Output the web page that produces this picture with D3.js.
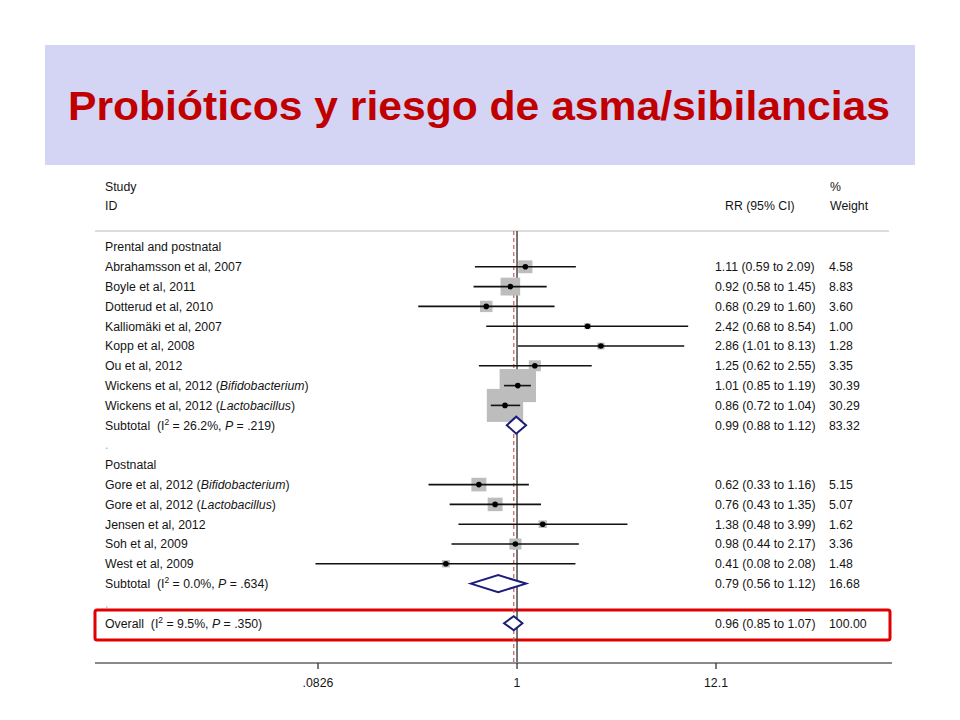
<!DOCTYPE html>
<html>
<head>
<meta charset="utf-8">
<script src="https://cdn.jsdelivr.net/npm/d3@7"></script>
<style>
  html, body { margin: 0; padding: 0; background: #fff; }
  svg { display: block; }
</style>
</head>
<body>
<svg id="chart" width="960" height="720"></svg>
<script>
// ---------------- DATA ----------------
const titleText = "Probióticos y riesgo de asma/sibilancias";

// Markup: _text_ = italic, ^2^ = superscript
const rowLabels = [
  "Prental and postnatal",
  "Abrahamsson et al, 2007",
  "Boyle et al, 2011",
  "Dotterud et al, 2010",
  "Kalliomäki et al, 2007",
  "Kopp et al, 2008",
  "Ou et al, 2012",
  "Wickens et al, 2012 (_Bifidobacterium_)",
  "Wickens et al, 2012 (_Lactobacillus_)",
  "Subtotal  (I^2^ = 26.2%, _P_ = .219)",
  ".",
  "Postnatal",
  "Gore et al, 2012 (_Bifidobacterium_)",
  "Gore et al, 2012 (_Lactobacillus_)",
  "Jensen et al, 2012",
  "Soh et al, 2009",
  "West et al, 2009",
  "Subtotal  (I^2^ = 0.0%, _P_ = .634)",
  ".",
  "Overall  (I^2^ = 9.5%, _P_ = .350)"
];
const rowTypes = [
  "group", "study", "study", "study", "study", "study", "study", "study", "study", "subtotal",
  "blank", "group", "study", "study", "study", "study", "study", "subtotal", "blank", "overall"
];
const rrValues = [null, 1.11, 0.92, 0.68, 2.42, 2.86, 1.25, 1.01, 0.86, 0.99,
                  null, null, 0.62, 0.76, 1.38, 0.98, 0.41, 0.79, null, 0.96];
const ciLower  = [null, 0.59, 0.58, 0.29, 0.68, 1.01, 0.62, 0.85, 0.72, 0.88,
                  null, null, 0.33, 0.43, 0.48, 0.44, 0.08, 0.56, null, 0.85];
const ciUpper  = [null, 2.09, 1.45, 1.60, 8.54, 8.13, 2.55, 1.19, 1.04, 1.12,
                  null, null, 1.16, 1.35, 3.99, 2.17, 2.08, 1.12, null, 1.07];
const weights  = [null, 4.58, 8.83, 3.60, 1.00, 1.28, 3.35, 30.39, 30.29, 83.32,
                  null, null, 5.15, 5.07, 1.62, 3.36, 1.48, 16.68, null, 100.00];
const overallRR = 0.96;
const tickValues = [0.0826, 1, 12.1];
const tickLabels = [".0826", "1", "12.1"];

// ---------------- LAYOUT ----------------
const svg = d3.select("#chart");
const font = "'Liberation Sans', Arial, sans-serif";
const textColor = "#141414";

// Title banner
svg.append("rect").attr("x", 45).attr("y", 45).attr("width", 870).attr("height", 120)
  .attr("fill", "#d4d4f4");
svg.append("text").attr("x", 68).attr("y", 120)
  .attr("font-family", font).attr("font-weight", "bold").attr("font-size", 41)
  .attr("fill", "#c00000")
  .attr("textLength", 822).attr("lengthAdjust", "spacingAndGlyphs")
  .text(titleText);

// Scales
const x = d3.scaleLog().domain([0.0826, 12.1]).range([318, 716]);
const y = d3.scaleLinear().domain([0, 19]).range([247, 623.2]);

const plotTop = 231, axisY = 663;
const colLabelX = 105, colRRX = 715, colWX = 829;
const fs = 12.3;

// Header texts
const hdr = svg.append("g").attr("font-family", font).attr("font-size", fs).attr("fill", textColor);
hdr.append("text").attr("x", colLabelX).attr("y", 187).attr("dy", "0.35em").text("Study");
hdr.append("text").attr("x", colLabelX).attr("y", 206).attr("dy", "0.35em").text("ID");
hdr.append("text").attr("x", colRRX + 10).attr("y", 206).attr("dy", "0.35em").text("RR (95% CI)");
hdr.append("text").attr("x", colWX + 1).attr("y", 187).attr("dy", "0.35em").text("%");
hdr.append("text").attr("x", colWX + 1).attr("y", 206).attr("dy", "0.35em").text("Weight");

// header separator
svg.append("line").attr("x1", 95).attr("x2", 889).attr("y1", plotTop).attr("y2", plotTop)
  .attr("stroke", "#d0d0d0").attr("stroke-width", 1.5);

// Red highlight box
svg.append("rect").attr("x", 95).attr("y", 610).attr("width", 795).attr("height", 30)
  .attr("rx", 2).attr("fill", "none").attr("stroke", "#e00000").attr("stroke-width", 3);

// Null line at 1
svg.append("line").attr("x1", x(1)).attr("x2", x(1)).attr("y1", plotTop).attr("y2", axisY)
  .attr("stroke", "#3a3a3a").attr("stroke-width", 1.4);
// Overall effect dashed line
svg.append("line").attr("x1", x(overallRR)).attr("x2", x(overallRR)).attr("y1", plotTop).attr("y2", axisY)
  .attr("stroke", "#c06060").attr("stroke-width", 1.2).attr("stroke-dasharray", "4,3");

const rows = rowLabels.map((label, i) => ({
  i, label, type: rowTypes[i], rr: rrValues[i], lo: ciLower[i], hi: ciUpper[i], w: weights[i]
}));
const studyRows = rows.filter(d => d.type === "study");
const poolRows = rows.filter(d => d.type === "subtotal" || d.type === "overall");

// Weight boxes
svg.append("g").selectAll("rect").data(studyRows).join("rect")
  .attr("x", d => x(d.rr) - 3.3 * Math.sqrt(d.w))
  .attr("y", d => y(d.i) - 3.0 * Math.sqrt(d.w))
  .attr("width", d => 6.6 * Math.sqrt(d.w))
  .attr("height", d => 6.0 * Math.sqrt(d.w))
  .attr("fill", "#bdbdbd");

// CI lines
svg.append("g").selectAll("line").data(studyRows).join("line")
  .attr("x1", d => x(d.lo)).attr("x2", d => x(d.hi))
  .attr("y1", d => y(d.i)).attr("y2", d => y(d.i))
  .attr("stroke", "#111").attr("stroke-width", 1.6);

// Point estimates
svg.append("g").selectAll("circle").data(studyRows).join("circle")
  .attr("cx", d => x(d.rr)).attr("cy", d => y(d.i)).attr("r", 2.8)
  .attr("fill", "#000");

// Pooled diamonds
svg.append("g").selectAll("path").data(poolRows).join("path")
  .attr("d", d => {
    const h = d.type === "overall" ? 7 : 8.5;
    const cy = y(d.i);
    return `M${x(d.lo)},${cy} L${x(d.rr)},${cy - h} L${x(d.hi)},${cy} L${x(d.rr)},${cy + h} Z`;
  })
  .attr("fill", "#fff").attr("stroke", "#1c1c7a").attr("stroke-width", 2);

// Rich-text label helper
function richText(sel, str) {
  const re = /(_[^_]+_|\^[^^]+\^)/g;
  let last = 0, m;
  const parts = [];
  while ((m = re.exec(str)) !== null) {
    if (m.index > last) parts.push({ t: str.slice(last, m.index), s: "n" });
    const tok = m[0];
    if (tok[0] === "_") parts.push({ t: tok.slice(1, -1), s: "i" });
    else parts.push({ t: tok.slice(1, -1), s: "sup" });
    last = m.index + tok.length;
  }
  if (last < str.length) parts.push({ t: str.slice(last), s: "n" });
  let prevSup = false;
  parts.forEach(p => {
    const ts = sel.append("tspan").text(p.t).attr("xml:space", "preserve");
    if (p.s === "i") ts.attr("font-style", "italic");
    if (p.s === "sup") { ts.attr("font-size", 8.5).attr("dy", -4.5); prevSup = true; }
    else if (prevSup) { ts.attr("dy", 4.5); prevSup = false; }
  });
}

// Left labels
const lab = svg.append("g").attr("font-family", font).attr("font-size", fs).attr("fill", textColor);
lab.selectAll("text").data(rows).join("text")
  .attr("x", colLabelX).attr("y", d => y(d.i)).attr("dy", "0.35em")
  .attr("fill", d => d.type === "blank" ? "#aaa" : textColor)
  .style("white-space", "pre")
  .each(function (d) { richText(d3.select(this), d.label); });

// Right columns
const fmt = d3.format(".2f");
const valRows = rows.filter(d => d.rr !== null);
const rc = svg.append("g").attr("font-family", font).attr("font-size", fs).attr("fill", textColor);
rc.selectAll("text.rr").data(valRows).join("text").attr("class", "rr")
  .attr("x", colRRX).attr("y", d => y(d.i)).attr("dy", "0.35em")
  .text(d => `${fmt(d.rr)} (${fmt(d.lo)} to ${fmt(d.hi)})`);
rc.selectAll("text.w").data(valRows).join("text").attr("class", "w")
  .attr("x", colWX).attr("y", d => y(d.i)).attr("dy", "0.35em")
  .text(d => fmt(d.w));

// Axis
svg.append("line").attr("x1", 95).attr("x2", 892).attr("y1", axisY).attr("y2", axisY)
  .attr("stroke", "#8a8a8a").attr("stroke-width", 2);
const ax = svg.append("g");
ax.selectAll("line").data(tickValues).join("line")
  .attr("x1", d => x(d)).attr("x2", d => x(d)).attr("y1", axisY).attr("y2", axisY + 6)
  .attr("stroke", "#333").attr("stroke-width", 1.3);
ax.selectAll("text").data(tickValues).join("text")
  .attr("x", d => x(d)).attr("y", axisY + 20).attr("dy", "0.35em")
  .attr("text-anchor", "middle").attr("font-family", font).attr("font-size", fs).attr("fill", textColor)
  .text((d, i) => tickLabels[i]);
</script>
</body>
</html>
